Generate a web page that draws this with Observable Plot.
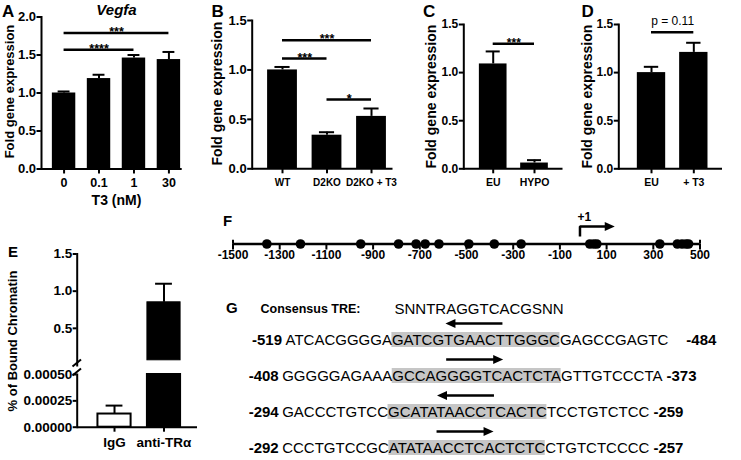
<!DOCTYPE html>
<html><head><meta charset="utf-8">
<script src="https://cdn.jsdelivr.net/npm/d3@7"></script>
<script src="https://cdn.jsdelivr.net/npm/@observablehq/plot@0.6"></script>
<style>
body{margin:0;background:#fff;}
#fig{position:relative;width:741px;height:460px;overflow:hidden;background:#fff;}
.p{position:absolute;}
</style></head><body><div id="fig"></div>
<script>
// ---------------- DATA ----------------
// Panel A
const aCats = ["0", "0.1", "1", "30"];
const aVals = [1.00, 1.19, 1.46, 1.44];
const aErrs = [0.02, 0.05, 0.04, 0.10];
const aSig = [{from: "0", to: "1", y: 1.57, label: "****"}, {from: "0", to: "30", y: 1.79, label: "***"}];
const aTicks = [0, 0.5, 1.0, 1.5, 2.0];
// Panel B
const bCats = ["WT", "D2KO", "D2KO + T3"];
const bVals = [1.00, 0.34, 0.53];
const bErrs = [0.03, 0.03, 0.08];
const bSig = [{from: "WT", to: "D2KO", y: 1.115, label: "***"}, {from: "WT", to: "D2KO + T3", y: 1.30, label: "***"}, {from: "D2KO", to: "D2KO + T3", y: 0.70, label: "*"}];
const bcdTicks = [0, 0.5, 1.0, 1.5];
// Panel C
const cCats = ["EU", "HYPO"];
const cVals = [1.09, 0.06];
const cErrs = [0.13, 0.03];
const cSig = [{from: "EU", to: "HYPO", y: 1.30, label: "***"}];
// Panel D
const dCats = ["EU", "+ T3"];
const dVals = [1.00, 1.21];
const dErrs = [0.06, 0.10];
const dSig = [{from: "EU", to: "+ T3", y: 1.42, label: "p = 0.11"}];
// Panel E (broken axis)
const eCats = ["IgG", "anti-TR\u03b1"];
const eVals = [0.000125, 0.85];
const eErrs = [0.00008, 0.25];
const eFills = ["white", "black"];
const eLowTicks = [0, 0.00025, 0.0005];
const eHighTicks = [0.5, 1.0, 1.5];
// Panel F
const fTicks = [-1500, -1300, -1100, -900, -700, -500, -300, -100, 100, 300, 500];
const fSites = [-1355, -1211, -953, -791, -716, -677, -618, -490, -381, -266, 28, 45, 58, 328, 403, 423, 440, 451];
const fTss = -14, fTssArrowTip = 135, fTssLabel = "+1";
// Panel G
const gConsLabel = "Consensus TRE:";
const gConsSeq = "SNNTRAGGTCACGSNN";
const gStart = ["-519", "-408", "-294", "-292"];
const gEnd = ["-484", "-373", "-259", "-257"];
const gPre = ["ATCACGGGGA", "GGGGGAGAAA", "GACCCTGTCC", "CCCTGTCCGC"];
const gTre = ["GATCGTGAACTTGGGC", "GCCAGGGGTCACTCTA", "GCATATAACCTCACTC", "ATATAACCTCACTCTC"];
const gPost = ["GAGCCGAGTC", "GTTGTCCCTA", "TCCTGTCTCC", "CTGTCTCCCC"];
const gDir = ["left", "right", "left", "right"];

// ---------------- LAYOUT ----------------
const FONT = "'Liberation Sans', Arial, Helvetica, sans-serif";
const fig = document.getElementById("fig");
function place(el, left, top, w, h) {
  const d = document.createElement("div");
  d.className = "p";
  Object.assign(d.style, {left: left + "px", top: top + "px", width: w + "px", height: h + "px"});
  d.appendChild(el); fig.appendChild(d);
}
const baseStyle = {fontFamily: FONT, fontSize: "12px", fontWeight: "bold", color: "black", background: "none", overflow: "visible"};
const HW = 0.335, CW = 0.17;

function barPanel(o) {
  const n = o.cats.length;
  const data = o.cats.map((c, i) => ({i, v: o.vals[i], e: o.errs[i]}));
  const sig = o.sig.map(s => ({i1: o.cats.indexOf(s.from), i2: o.cats.indexOf(s.to), y: s.y, label: s.label}));
  const marks = [
    Plot.rect(data, {x1: d => d.i - HW, x2: d => d.i + HW, y1: () => 0, y2: "v", fill: "black"}),
    Plot.ruleX(data, {x: "i", y1: "v", y2: d => d.v + d.e, strokeWidth: 2}),
    Plot.ruleY(data, {y: d => d.v + d.e, x1: d => d.i - CW, x2: d => d.i + CW, strokeWidth: 2}),
    Plot.ruleY(sig, {y: "y", x1: "i1", x2: "i2", strokeWidth: 2.5}),
    Plot.text(sig, {x: d => (d.i1 + d.i2) / 2, y: "y", text: "label", lineAnchor: "bottom", dy: o.sigDy, fontSize: o.sigSize, fontWeight: o.sigWeight}),
    Plot.axisY({ticks: o.ticks, tickFormat: d3.format(".1f"), tickSize: 4.5, tickPadding: 1, fontSize: o.yTickSize, label: null, strokeWidth: 2}),
    Plot.axisX({ticks: d3.range(n), tickFormat: i => o.cats[i], tickSize: 5, tickPadding: o.xPad, fontSize: o.xTickSize, label: null, strokeWidth: 2}),
    Plot.frame({anchor: "left", strokeWidth: 2}),
    Plot.ruleY([0], {strokeWidth: 2}),
    Plot.text(["Fold gene expression"], {frameAnchor: "left", textAnchor: "middle", lineAnchor: "middle", rotate: -90, dx: o.yLabelDx, dy: o.yLabelDy, fontSize: o.yLabelSize})
  ];
  if (o.title) marks.push(Plot.text([o.title], {x: (n - 1) / 2, frameAnchor: "top", lineAnchor: "bottom", dy: -2.5, fontSize: 15, fontStyle: "italic"}));
  if (o.xLabel) marks.push(Plot.text([o.xLabel], {x: (n - 1) / 2, frameAnchor: "bottom", lineAnchor: "middle", dy: 31.5, fontSize: 14}));
  const chart = Plot.plot({
    width: o.width, height: o.height,
    marginLeft: o.ml, marginRight: o.mr, marginTop: o.mt, marginBottom: o.mb,
    x: {domain: o.xDomain}, y: {domain: [0, o.ymax]},
    style: baseStyle, marks
  });
  place(chart, o.left, o.top, o.width, o.height);
}

barPanel({cats: aCats, vals: aVals, errs: aErrs, sig: aSig, ticks: aTicks, ymax: 2,
  left: 0, top: 0, width: 190, height: 205, ml: 41, mr: 8.3, mt: 16.5, mb: 36.5, xDomain: [-0.646, 3.38],
  yTickSize: 13, xTickSize: 12.5, xPad: 4.5, sigSize: 12.5, sigWeight: "bold", sigDy: 3,
  yLabelDx: -32, yLabelDy: -1.5, yLabelSize: 13, title: "Vegfa", xLabel: "T3 (nM)"});
barPanel({cats: bCats, vals: bVals, errs: bErrs, sig: bSig, ticks: bcdTicks, ymax: 1.5,
  left: 190, top: 0, width: 205, height: 205, ml: 61.7, mr: 2.5, mt: 20, mb: 36.7, xDomain: [-0.681, 2.483],
  yTickSize: 13, xTickSize: 10, xPad: 5, sigSize: 12.5, sigWeight: "bold", sigDy: 3,
  yLabelDx: -34.2, yLabelDy: -1, yLabelSize: 14});
barPanel({cats: cCats, vals: cVals, errs: cErrs, sig: cSig, ticks: bcdTicks, ymax: 1.5,
  left: 395, top: 0, width: 170, height: 205, ml: 68.3, mr: 2.5, mt: 24, mb: 36.7, xDomain: [-0.712, 1.69],
  yTickSize: 12, xTickSize: 10.5, xPad: 5, sigSize: 12, sigWeight: "bold", sigDy: 3.5,
  yLabelDx: -32.3, yLabelDy: 0, yLabelSize: 14});
barPanel({cats: dCats, vals: dVals, errs: dErrs, sig: dSig, ticks: bcdTicks, ymax: 1.5,
  left: 565, top: 0, width: 176, height: 205, ml: 53.3, mr: 19, mt: 24, mb: 36.7, xDomain: [-0.773, 1.678],
  yTickSize: 12, xTickSize: 10.5, xPad: 5, sigSize: 12, sigWeight: "normal", sigDy: -7,
  yLabelDx: -30.8, yLabelDy: 0, yLabelSize: 14});

// ---- Panel E: broken y axis (two segments) ----
{
  const data = eCats.map((c, i) => ({i, v: eVals[i], e: eErrs[i], fill: eFills[i]}));
  const lowMax = eLowTicks[eLowTicks.length - 1];
  const highMax = eHighTicks[eHighTicks.length - 1];
  const topBase = 0.07;
  const eX = [-0.754, 1.677];
  const high = data.filter(d => d.v > lowMax);
  const top = Plot.plot({
    width: 200, height: 130, marginLeft: 76.7, marginRight: 3, marginTop: 13.5, marginBottom: 5,
    x: {domain: eX, axis: null}, y: {domain: [0, highMax]}, style: baseStyle,
    marks: [
      Plot.rect(high, {x1: d => d.i - HW, x2: d => d.i + HW, y1: () => topBase, y2: "v", fill: "fill", stroke: "black", strokeWidth: 1}),
      Plot.ruleX(high, {x: "i", y1: "v", y2: d => d.v + d.e, strokeWidth: 2}),
      Plot.ruleY(high, {y: d => d.v + d.e, x1: d => d.i - CW, x2: d => d.i + CW, strokeWidth: 2}),
      Plot.axisY({ticks: eHighTicks, tickFormat: d3.format(".1f"), tickSize: 4, tickPadding: 1, fontSize: 13.5, label: null, strokeWidth: 2}),
      Plot.frame({anchor: "left", strokeWidth: 2})
    ]
  });
  place(top, 0, 240, 200, 130);
  const low = data.filter(d => d.v + d.e <= lowMax);
  const bottom = Plot.plot({
    width: 200, height: 90, marginLeft: 76.7, marginRight: 3, marginTop: 4, marginBottom: 33.3,
    x: {domain: eX}, y: {domain: [0, lowMax]}, style: baseStyle,
    marks: [
      Plot.rect(data, {x1: d => d.i - HW, x2: d => d.i + HW, y1: () => 0, y2: d => Math.min(d.v, lowMax), fill: "fill", stroke: "black", strokeWidth: 2}),
      Plot.ruleX(low, {x: "i", y1: "v", y2: d => d.v + d.e, strokeWidth: 2}),
      Plot.ruleY(low, {y: d => d.v + d.e, x1: d => d.i - CW, x2: d => d.i + CW, strokeWidth: 2}),
      Plot.axisY({ticks: eLowTicks, tickFormat: d3.format(".5f"), tickSize: 4, tickPadding: 1, fontSize: 13.5, label: null, strokeWidth: 2}),
      Plot.axisX({ticks: d3.range(eCats.length), tickFormat: i => eCats[i], tickSize: 5, tickPadding: 5, fontSize: 13.5, label: null, strokeWidth: 2}),
      Plot.frame({anchor: "left", strokeWidth: 2}),
      Plot.ruleY([0], {strokeWidth: 2})
    ]
  });
  place(bottom, 0, 370, 200, 90);
}

// ---- arrowhead symbols (tip at origin) ----
const headRight = {draw(c) { c.moveTo(0, 0); c.lineTo(-10, -4.5); c.lineTo(-10, 4.5); c.closePath(); }};
const headLeft = {draw(c) { c.moveTo(0, 0); c.lineTo(10, -4.5); c.lineTo(10, 4.5); c.closePath(); }};

// ---- Panel F: promoter map ----
{
  const xd = [fTicks[0], fTicks[fTicks.length - 1]];
  const tssPath = [{x: fTss, y: 0.43}, {x: fTss, y: 1}, {x: fTssArrowTip - 30, y: 1}];
  const f = Plot.plot({
    width: 541, height: 65, marginLeft: 32.5, marginRight: 41.5, marginTop: 21, marginBottom: 26.5,
    x: {domain: xd}, y: {domain: [0, 1], axis: null}, style: baseStyle,
    marks: [
      Plot.ruleY([0], {strokeWidth: 2.5}),
      Plot.ruleX(xd, {y1: () => 0, y2: () => 0.22, strokeWidth: 2}),
      Plot.axisX({ticks: fTicks, tickFormat: d => String(d), tickSize: 6, tickPadding: 0, fontSize: 12, label: null, strokeWidth: 2}),
      Plot.dot(fSites, {x: d => d, y: () => 0, r: 4.8, fill: "black", stroke: null}),
      Plot.line(tssPath, {x: "x", y: "y", strokeWidth: 2.5, strokeLinejoin: "miter", strokeLinecap: "butt"}),
      Plot.dot([fTssArrowTip], {x: d => d, y: () => 1, symbol: headRight, r: 5, fill: "black", stroke: null}),
      Plot.text([fTssLabel], {x: fTss, y: () => 1, dy: -6, dx: -2.5, textAnchor: "start", lineAnchor: "bottom", fontSize: 12})
    ]
  });
  place(f, 200, 205, 541, 65);
}

// ---- Panel G: sequences ----
{
  const cv = document.createElement("canvas").getContext("2d");
  const tw = (t, s, w) => { cv.font = `${w} ${s}px 'Liberation Sans'`; return cv.measureText(t).width; };
  const SEQ = 15;
  const indent = [3.3, 0, 0, 0], endGap = [18, 4, 4, 4];
  const rows = gPre.map((pre, r) => {
    const seq = pre + gTre[r] + gPost[r];
    const sx = 61.7 + indent[r];
    const x1 = sx + tw(pre, SEQ, "normal");
    const x2 = x1 + tw(gTre[r], SEQ, "normal");
    const c = (x1 + x2) / 2 - 2;
    const right = gDir[r] === "right";
    const tip = right ? c + 28.5 : c - 28.5;
    const tail = right ? c - 28.5 : c + 28.5;
    return {r, seq, sx, x1, x2, tip, tail, shaftEnd: right ? tip - 8 : tip + 8, right,
      start: gStart[r], end: gEnd[r], ex: sx + tw(seq, SEQ, "normal") + endGap[r]};
  });
  const g = Plot.plot({
    width: 521, height: 165, margin: 0,
    x: {type: "identity"},
    y: {type: "band", domain: [0, 1, 2, 3], range: [25.3, 171.3], paddingInner: 0.575, paddingOuter: 0.2875, axis: null},
    style: baseStyle,
    marks: [
      Plot.barX(rows, {x1: "x1", x2: "x2", y: "r", fill: "#c6c6c6"}),
      Plot.text(rows, {x: "sx", y: "r", text: "seq", textAnchor: "start", fontSize: SEQ, fontWeight: "normal"}),
      Plot.text(rows, {x: d => d.sx - 3.5, y: "r", text: "start", textAnchor: "end", fontSize: SEQ, fontWeight: "bold"}),
      Plot.text(rows, {x: "ex", y: "r", text: "end", textAnchor: "start", fontSize: SEQ, fontWeight: "bold"}),
      Plot.link(rows, {x1: "tail", x2: "shaftEnd", y1: "r", y2: "r", dy: -16.5, strokeWidth: 2.7}),
      Plot.dot(rows.filter(d => d.right), {x: "tip", y: "r", dy: -16.5, symbol: headRight, r: 5, fill: "black", stroke: null}),
      Plot.dot(rows.filter(d => !d.right), {x: "tip", y: "r", dy: -16.5, symbol: headLeft, r: 5, fill: "black", stroke: null}),
      Plot.text([gConsLabel], {x: 40, frameAnchor: "top", dy: 13.3, lineAnchor: "middle", textAnchor: "start", fontSize: 12.5, fontWeight: "bold"}),
      Plot.text([gConsSeq], {x: 174, frameAnchor: "top", dy: 13.3, lineAnchor: "middle", textAnchor: "start", fontSize: SEQ, fontWeight: "normal"})
    ]
  });
  place(g, 220, 295, 521, 165);
}

// ---- overlay: panel letters, E y-label, axis break marks ----
{
  const ov = d3.create("svg").attr("width", 741).attr("height", 460)
    .style("position", "absolute").style("left", "0px").style("top", "0px").style("overflow", "visible")
    .style("font-family", FONT).style("font-weight", "bold");
  const letters = [
    {t: "A", x: 2, y: 16.7, s: 17}, {t: "B", x: 211.5, y: 16.7, s: 17}, {t: "C", x: 423, y: 16.7, s: 17},
    {t: "D", x: 581.5, y: 16.7, s: 17}, {t: "E", x: 8, y: 256.7, s: 15}, {t: "F", x: 223, y: 225.5, s: 15},
    {t: "G", x: 226, y: 313.3, s: 15}
  ];
  ov.selectAll("text.l").data(letters).join("text").attr("class", "l")
    .attr("x", d => d.x).attr("y", d => d.y).attr("font-size", d => d.s).text(d => d.t);
  ov.append("text").attr("transform", "translate(13,341) rotate(-90)").attr("text-anchor", "middle")
    .attr("dy", "0.32em").attr("font-size", 13).text("% of Bound Chromatin");
  ov.selectAll("line.b").data([366.5, 375.5]).join("line").attr("class", "b")
    .attr("x1", 72.5).attr("x2", 81).attr("y1", d => d).attr("y2", d => d - 7)
    .attr("stroke", "black").attr("stroke-width", 2);
  fig.appendChild(ov.node());
}
</script></body></html>
